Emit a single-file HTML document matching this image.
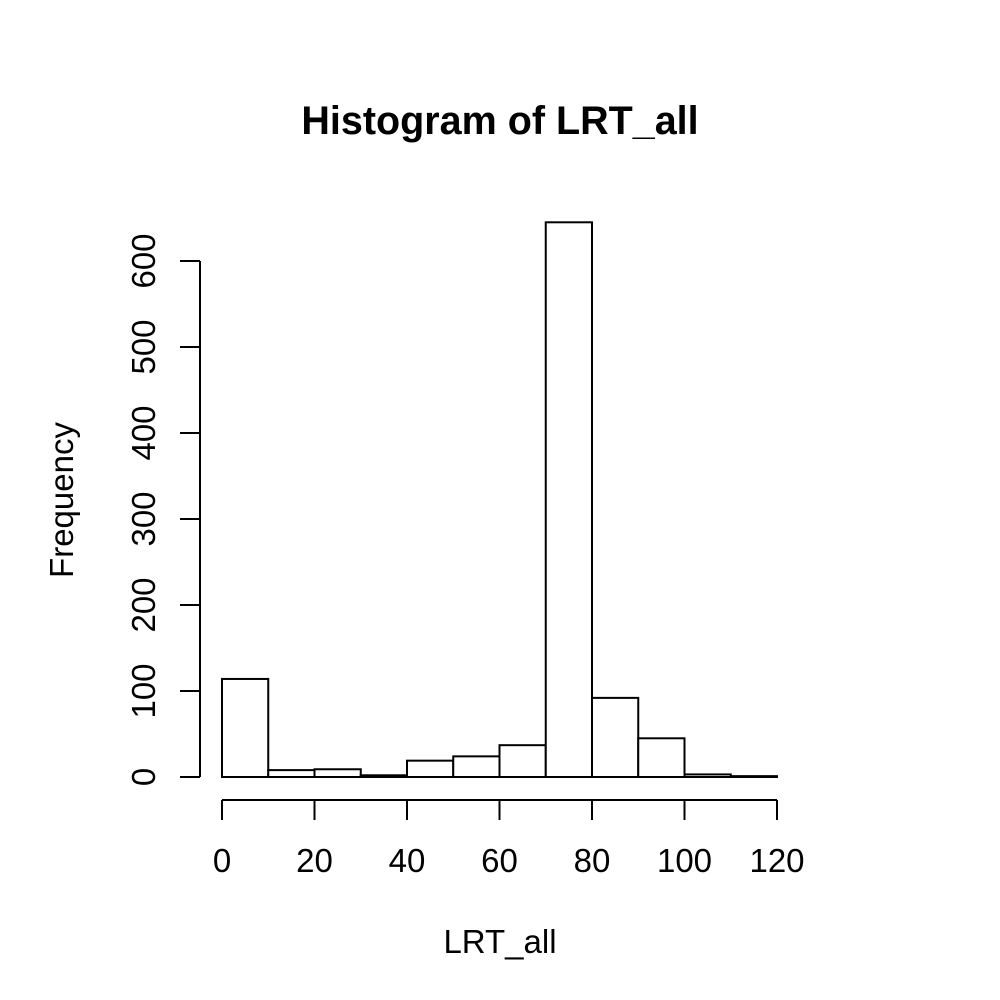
<!DOCTYPE html>
<html><head><meta charset="utf-8"><style>
html,body{margin:0;padding:0;background:#fff;}
svg{display:block;font-family:"Liberation Sans",Arial,sans-serif;}
</style></head><body>
<svg id="chart" width="1000" height="1000" viewBox="0 0 1000 1000">
<rect x="0" y="0" width="1000" height="1000" fill="#fff"/>
<text x="500" y="134" text-anchor="middle" font-size="39.5" font-weight="bold">Histogram of LRT_all</text>
<text x="500" y="953" text-anchor="middle" font-size="33">LRT_all</text>
<text transform="translate(73,500) rotate(-90)" text-anchor="middle" font-size="33">Frequency</text>
<g id="bars"></g><g id="xaxis"></g><g id="yaxis"></g>
</svg>
<script>
const binEdges = [0,10,20,30,40,50,60,70,80,90,100,110,120];
const counts = [114,8,9,2,19,24,37,645,92,45,3,1];
const xTicks = [0,20,40,60,80,100,120];
const yTicks = [0,100,200,300,400,500,600];

const NS = 'http://www.w3.org/2000/svg';
function X(v){ return 222 + v * 4.625; }
function Y(v){ return 777 - v * 0.86; }
function mk(tag, attrs, parent){
  const e = document.createElementNS(NS, tag);
  for (const k in attrs) e.setAttribute(k, attrs[k]);
  parent.appendChild(e); return e;
}
const bars = document.getElementById('bars');
counts.forEach((c,i)=>{
  const x0 = X(binEdges[i]), x1 = X(binEdges[i+1]);
  const r = mk('rect',{x:x0,y:Y(c),width:x1-x0,height:Y(0)-Y(c),fill:'#fff',stroke:'#000','stroke-width':2},bars);
  
  
});
const xa = document.getElementById('xaxis');
const xl = mk('line',{x1:X(xTicks[0]),x2:X(xTicks[xTicks.length-1]),y1:800,y2:800,stroke:'#000','stroke-width':2},xa);


xTicks.forEach(t=>{
  const l = mk('line',{x1:X(t),x2:X(t),y1:800,y2:820,stroke:'#000','stroke-width':2},xa);
  
  
  const tx = mk('text',{x:X(t),y:872,'text-anchor':'middle','font-size':33},xa);
  tx.textContent = t;
  
  
});
const ya = document.getElementById('yaxis');
const yl = mk('line',{x1:200,x2:200,y1:Y(yTicks[0]),y2:Y(yTicks[yTicks.length-1]),stroke:'#000','stroke-width':2},ya);


yTicks.forEach(t=>{
  const l = mk('line',{x1:180,x2:200,y1:Y(t),y2:Y(t),stroke:'#000','stroke-width':2},ya);
  
  
  const tx = mk('text',{transform:'translate(155,'+Y(t)+') rotate(-90)','text-anchor':'middle','font-size':33},ya);
  tx.textContent = t;
  
  
});
</script>
</body></html>
